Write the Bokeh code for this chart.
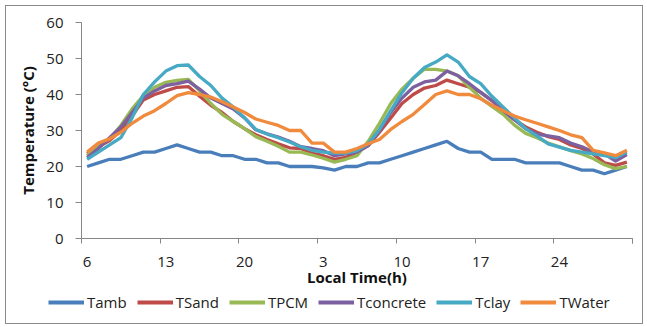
from bokeh.plotting import figure
from bokeh.layouts import column, row
from bokeh.models import Range1d, FixedTicker, LinearAxis, Legend, LegendItem, Spacer
from bokeh.embed import file_html
from bokeh.resources import INLINE

hours = [6, 7, 8, 9, 10, 11, 12, 13, 14, 15, 16, 17, 18, 19, 20, 21, 22, 23, 24,
         1, 2, 3, 4, 5, 6, 7, 8, 9, 10, 11, 12, 13, 14, 15, 16, 17, 18, 19, 20, 21, 22, 23, 24,
         1, 2, 3, 4, 5, 6]

tamb = [20, 21, 22, 22, 23, 24, 24, 25, 26, 25,
        24, 24, 23, 23, 22, 22, 21, 21, 20, 20,
        20, 19.6, 19, 20, 20, 21, 21, 22, 23, 24,
        25, 26, 27, 25, 24, 24, 22, 22, 22, 21,
        21, 21, 21, 20, 19, 19, 18, 19, 20]
tsand = [23.5, 25.5, 27.2, 30, 34, 38.5, 40, 41, 42, 42.2,
         39.5, 37, 35, 32.5, 30.5, 28.8, 27.5, 26.3, 25.2, 25,
         23.7, 23, 22, 22.5, 24, 25.8, 29.5, 33.5, 37.5, 40,
         41.8, 42.5, 44, 43, 42, 40.6, 38.3, 35.5, 33, 31,
         29.5, 28.3, 27.5, 26, 25, 23.5, 21, 20.3, 21.2]
tpcm = [23, 25.8, 27.7, 31.4, 36, 39.7, 42, 43.4, 43.9, 44.2,
        41, 37.5, 34.5, 32.5, 30.5, 28.3, 27, 25.6, 24, 24,
        23.2, 22.3, 21.2, 22, 23, 27, 32, 37.5, 41.5, 44.5,
        47, 47, 46.5, 45.2, 42, 39, 36.7, 34.5, 31.5, 29.2,
        28, 26.5, 25.5, 24.4, 23.5, 22.2, 20.5, 19.4, 20]
tconcrete = [22.5, 25, 28, 31, 35, 39, 41, 42.5, 43, 43.7,
             41.5, 39, 37.5, 36, 33.5, 30.2, 29.1, 28.2, 27, 25.5,
             25, 24.4, 23, 23.5, 24, 25.8, 30, 35, 39, 42,
             43.5, 44, 46.5, 45.2, 43, 40.6, 38.3, 35.5, 33, 30.5,
             29, 28.5, 28, 26.5, 25.5, 24, 23.5, 21.5, 23.3]
tclay = [22, 24, 26, 28, 33.5, 40, 43.5, 46.5, 48, 48.2,
         45, 42.5, 39, 36.5, 33.5, 30.3, 29, 28, 26.8, 25.5,
         24.5, 24, 23.7, 23.7, 24.4, 26.3, 30.3, 35.5, 40.5, 44.5,
         47.5, 49, 51, 49, 45, 43, 39.5, 36.5, 33.5, 30.5,
         28.5, 26.3, 25.4, 24.5, 24, 23.5, 23, 22.5, 24]
twater = [24, 26.5, 27.7, 29.5, 32, 34, 35.5, 37.5, 39.7, 40.5,
          40, 39.3, 38, 36.5, 35, 33.2, 32.3, 31.4, 30, 30,
          26.5, 26.5, 24, 24, 25, 26.3, 27.5, 30.3, 32.5, 34.5,
          37.2, 40, 41, 40, 40, 38.8, 37, 35.5, 34, 33,
          32, 31, 30, 28.8, 28, 24.5, 23.8, 23, 24.5]

series_names = ["Tamb", "TSand", "TPCM", "Tconcrete", "Tclay", "TWater"]
series_values = [tamb, tsand, tpcm, tconcrete, tclay, twater]
colors = ["#4A7EBB", "#BE4B48", "#98B954", "#7D60A0", "#46AAC5", "#F08A3C"]

y_ticks = [0, 10, 20, 30, 40, 50, 60]
label_every = 7

FONT = "Open Sans"
x = list(range(len(hours)))

W = 636
p = figure(width=W, height=284, output_backend="svg", toolbar_location=None,
           x_range=Range1d(-0.5, len(hours) - 0.5), y_range=Range1d(0, 60),
           min_border_left=75, min_border_right=10, min_border_top=16, min_border_bottom=52,
           outline_line_color=None, background_fill_color="white", border_fill_color="white")
p.xgrid.grid_line_color = None
p.ygrid.grid_line_color = None

for name, vals, c in zip(series_names, series_values, colors):
    p.line(x, vals, line_color=c, line_width=3.3, line_join="round")

# y axis
ya = p.yaxis[0]
ya.ticker = FixedTicker(ticks=y_ticks)
ya.axis_line_color = "#868686"
ya.major_tick_line_color = "#868686"
ya.major_tick_out = 6
ya.major_tick_in = 0
ya.minor_tick_line_color = None
ya.major_label_text_font = FONT
ya.major_label_text_font_size = "15px"
ya.major_label_text_color = "#222222"
ya.major_label_standoff = 12
ya.axis_label = "Temperature (°C)"
ya.axis_label_text_font = FONT
ya.axis_label_text_font_size = "15px"
ya.axis_label_text_font_style = "bold"
ya.axis_label_text_color = "#111111"
ya.axis_label_standoff = 5

# x axis: tick marks at category boundaries
xa = p.xaxis[0]
bounds = [i - 0.5 for i in range(0, len(hours) + 1, label_every)] + [len(hours) - 0.5]
xa.ticker = FixedTicker(ticks=bounds)
xa.major_label_overrides = {b: "" for b in bounds}
xa.major_label_text_font_size = "0px"
xa.major_label_standoff = 0
xa.axis_line_color = "#868686"
xa.major_tick_line_color = "#868686"
xa.major_tick_out = 5
xa.major_tick_in = 0
xa.minor_tick_line_color = None

# x axis labels at category centres
label_pos = list(range(0, len(hours), label_every))
xb = LinearAxis(ticker=FixedTicker(ticks=label_pos),
                major_label_overrides={i: str(hours[i]) for i in label_pos})
xb.axis_line_color = None
xb.major_tick_line_color = None
xb.minor_tick_line_color = None
xb.major_tick_out = 0
xb.major_label_standoff = 13
xb.major_label_text_font = FONT
xb.major_label_text_font_size = "15px"
xb.major_label_text_color = "#222222"
xb.axis_label = "Local Time(h)"
xb.axis_label_text_font = FONT
xb.axis_label_text_font_size = "15px"
xb.axis_label_text_font_style = "bold"
xb.axis_label_text_color = "#111111"
xb.axis_label_standoff = -3
p.add_layout(xb, "below")

# legend strip (its lines lie far outside its own view, only the legend shows)
pl = figure(width=W, height=33, output_backend="svg", toolbar_location=None,
            x_range=Range1d(-0.5, len(hours) - 0.5), y_range=Range1d(1000, 1001),
            x_axis_type=None, y_axis_type=None,
            min_border=0, outline_line_color=None, background_fill_color="white",
            border_fill_color="white")
pl.xgrid.grid_line_color = None
pl.ygrid.grid_line_color = None
leg_renderers = [pl.line(x, vals, line_color=c, line_width=4)
                 for vals, c in zip(series_values, colors)]
legend = Legend(items=[LegendItem(label=n, renderers=[r]) for n, r in zip(series_names, leg_renderers)],
                orientation="horizontal", location=(42, 11),
                glyph_width=36, glyph_height=16, label_standoff=3, spacing=10,
                padding=0, margin=0, border_line_color=None, background_fill_alpha=0,
                label_text_font=FONT, label_text_font_size="15px", label_text_color="#222222")
pl.add_layout(legend, "center")

chart = column(p, row(pl, spacing=0), spacing=0, styles={"border": "1px solid #8a8a8a"})
layout = column(Spacer(height=5), row(Spacer(width=5), chart, spacing=0), spacing=0)

open("out.html", "w").write(file_html(layout, INLINE))
